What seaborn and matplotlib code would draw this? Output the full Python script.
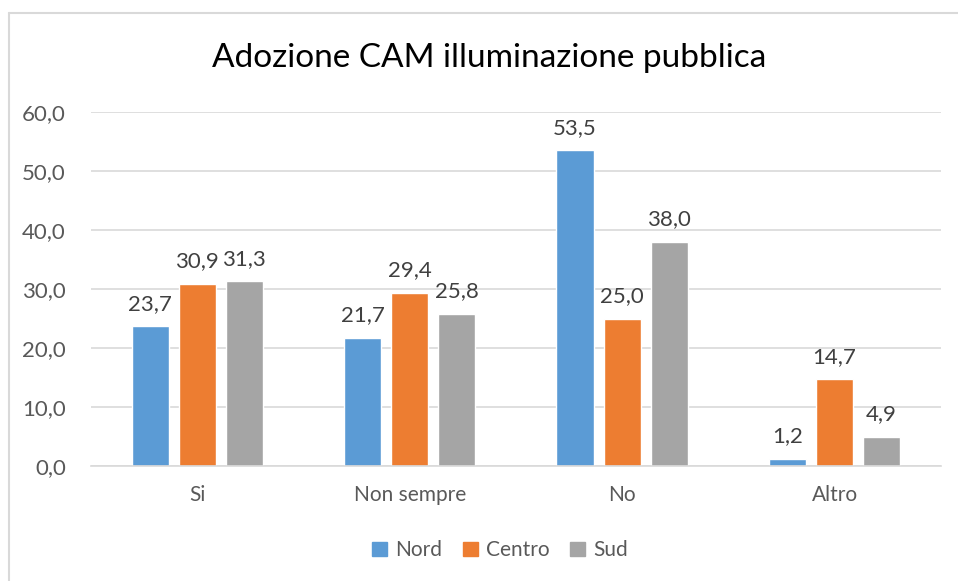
import pandas as pd
import matplotlib.pyplot as plt
import seaborn as sns
from matplotlib.lines import Line2D

# data
categories = ["Si", "Non sempre", "No", "Altro"]
nord = [23.7, 21.7, 53.5, 1.2]
centro = [30.9, 29.4, 25.0, 14.7]
sud = [31.3, 25.8, 38.0, 4.9]
series = ["Nord", "Centro", "Sud"]
colors = ["#5B9BD5", "#ED7D31", "#A5A5A5"]

df = pd.DataFrame({
    "Risposta": categories * 3,
    "Area": [s for s in series for _ in categories],
    "Valore": nord + centro + sud,
})

sns.set_style("white")
plt.rcParams["font.family"] = ["Lato", "DejaVu Sans"]

fig = plt.figure(figsize=(9.58, 5.81), dpi=100)
ax = fig.add_axes([0.095, 0.198, 0.887, 0.609])

sns.barplot(data=df, x="Risposta", y="Valore", hue="Area", order=categories,
            hue_order=series, palette=colors, width=0.665, gap=0.21,
            saturation=1, ax=ax, legend=False)

for cont in ax.containers:
    ax.bar_label(cont, labels=[f"{v:.1f}".replace(".", ",") for v in cont.datavalues],
                 padding=9, fontsize=16, color="#404040")

ax.set_ylim(0, 60)
ax.set_yticks(range(0, 61, 10))
ax.set_yticklabels([f"{t},0" for t in range(0, 61, 10)])
ax.yaxis.grid(True, color="#D9D9D9", linewidth=1.2)
ax.set_axisbelow(True)
for s in ["top", "right", "left"]:
    ax.spines[s].set_visible(False)
ax.spines["bottom"].set_color("#D9D9D9")
ax.spines["bottom"].set_linewidth(1.2)
ax.tick_params(axis="y", length=0, labelsize=16, colors="#595959", pad=18)
ax.tick_params(axis="x", length=0, labelsize=15, colors="#595959", pad=14)
ax.set_xlabel("")
ax.set_ylabel("")

fig.text(0.511, 0.9, "Adozione CAM illuminazione pubblica", ha="center", va="center",
         fontsize=24, color="#000000")

handles = [plt.Rectangle((0, 0), 1, 1, color=c) for c in colors]
fig.legend(handles, series, loc="center", bbox_to_anchor=(0.522, 0.053), ncol=3,
           frameon=False, fontsize=15, handlelength=0.7, handleheight=0.7,
           handletextpad=0.4, columnspacing=1.0, labelcolor="#595959")

# chart frame (cut by the image border)
fig.add_artist(Line2D([9 / 958, 9 / 958], [0, 1 - 13 / 581], color="#D9D9D9", lw=1.5))
fig.add_artist(Line2D([9 / 958, 1], [1 - 13 / 581, 1 - 13 / 581], color="#D9D9D9", lw=1.5))

fig.savefig("out.png", dpi=100)
